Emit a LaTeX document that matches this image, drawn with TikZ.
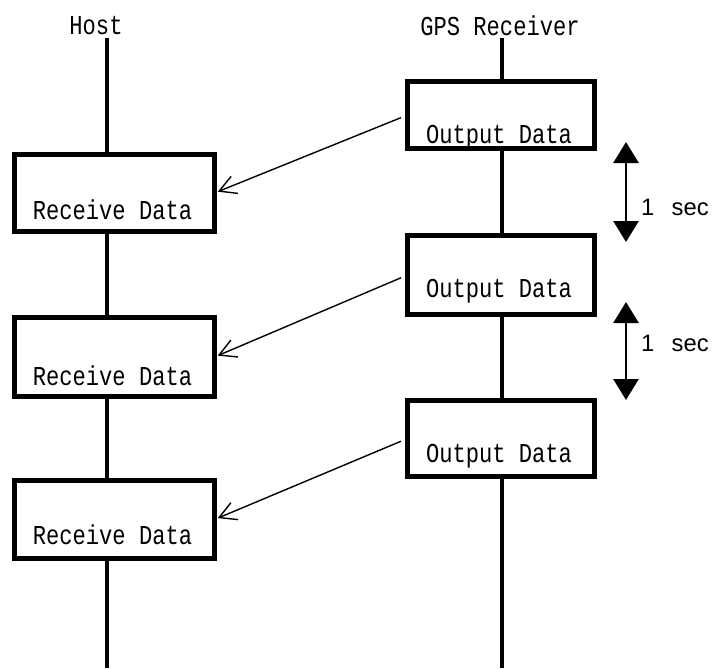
\documentclass[tikz,border=0pt]{standalone}
\usepackage{fontspec}
\setmonofont[FakeStretch=0.81]{Liberation Mono}
\setsansfont{Liberation Sans}
\usetikzlibrary{arrows.meta}

\begin{document}
\begin{tikzpicture}[x=0.03cm, y=-0.03cm,
  box/.style={draw, line width=4.3pt, inner sep=0pt, outer sep=0pt},
  outbox/.style={box, minimum width=5.61cm},
  recbox/.style={box, minimum width=6.0cm},
  txt/.style={inner sep=0pt, font=\ttfamily\fontsize{23.3pt}{28pt}\selectfont},
  life/.style={line width=3.4pt},
  msg/.style={line width=1.2pt, -{Straight Barb[length=5mm, width=5.5mm]}, shorten <=6pt, shorten >=3pt},
  period/.style={line width=2.5pt, {Triangle[length=6.3mm, width=7.5mm]}-{Triangle[length=6.3mm, width=7.5mm]}},
  sectxt/.style={anchor=west, inner sep=0pt, font=\sffamily\fontsize{20.3pt}{24pt}\selectfont}]
\newcommand{\Hostx}{107}; % host line
\newcommand{\Gpsx}{502}; % receiver line
\useasboundingbox (0,0) rectangle (712,668);

\coordinate (HT) at (\Hostx, 38);
\coordinate (HB) at (\Hostx, 668);
\coordinate (GT) at (\Gpsx, 38);
\coordinate (GB) at (\Gpsx, 668);

\node[txt] (host) at (96, 26) {Host};
\node[txt] (gps) at (500, 26) {GPS Receiver};

% receiver side
\node[outbox, minimum height=2.01cm] (O1) at (501, 115)   {};
\node[outbox, minimum height=2.37cm] (O2) at (501, 275)   {};
\node[outbox, minimum height=2.28cm] (O3) at (501, 438.5) {};
\node[txt] (O1t) at (499, 137) {Output Data};
\node[txt] (O2t) at (499, 291) {Output Data};
\node[txt] (O3t) at (499, 456) {Output Data};

% host side
\node[recbox, minimum height=2.31cm] (R1) at (114.5, 193)   {};
\node[recbox, minimum height=2.37cm] (R2) at (114.5, 357)   {};
\node[recbox, minimum height=2.34cm] (R3) at (114.5, 519.5) {};
\node[txt] (R1t) at (112.5, 210) {Receive Data};
\node[txt] (R2t) at (112.5, 376) {Receive Data};
\node[txt] (R3t) at (112.5, 535) {Receive Data};
%

% life lines
\draw[life] (HT) -- (HT |- R1.north);
\draw[life] (HT |- R1.south) -- (HT |- R2.north);
\draw[life] (HT |- R2.south) -- (HT |- R3.north);
\draw[life] (HT |- R3.south) -- (HB);
\draw[life] (GT) -- (GT |- O1.north);
\draw[life] (GT |- O1.south) -- (GT |- O2.north);
\draw[life] (GT |- O2.south) -- (GT |- O3.north);
\draw[life] (GT |- O3.south) -- (GB);

% data
\draw[msg] (O1.west) -- (R1.east);
\draw[msg] (O2.west) -- (R2.east);
\draw[msg] (O3.west) -- (R3.east);

% one second
\coordinate (S1a) at (626, 142);
\coordinate (S1b) at (626, 242);
\coordinate (S2a) at (626, 302);
\coordinate (S2b) at (626, 400);
\draw[period] (S1a) -- (S1b);
\draw[period] (S2a) -- (S2b);
\node[sectxt] (sec1) at (641, 207) {1~~\,sec};
\node[sectxt] (sec2) at (641, 343) {1~~\,sec};
\end{tikzpicture}
\end{document}
